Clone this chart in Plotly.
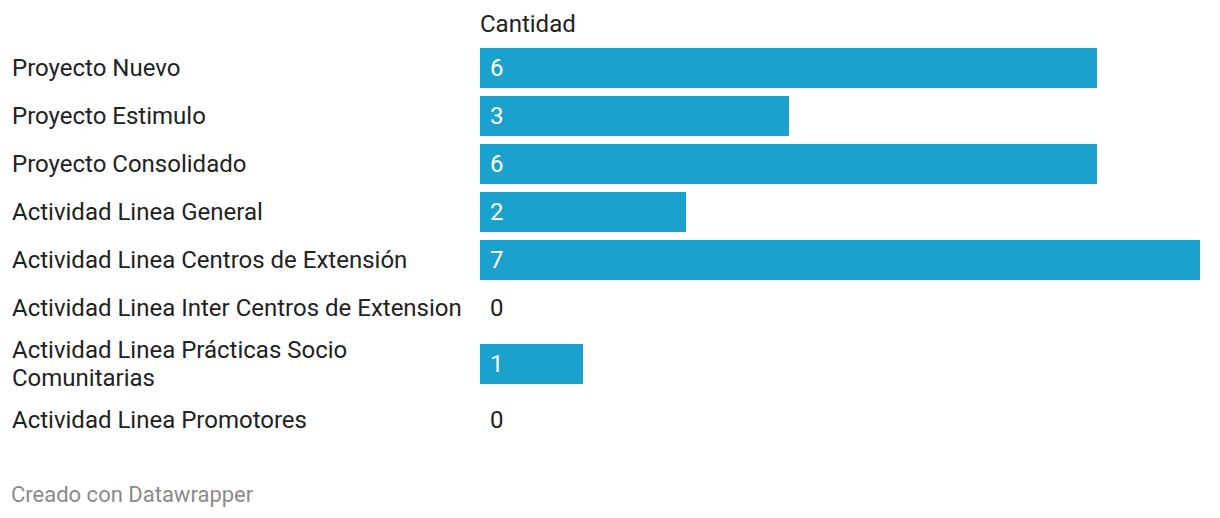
import plotly.graph_objects as go

categories = [
    "Proyecto Nuevo",
    "Proyecto Estimulo",
    "Proyecto Consolidado",
    "Actividad Linea General",
    "Actividad Linea Centros de Extensión",
    "Actividad Linea Inter Centros de Extension",
    "Actividad Linea Prácticas Socio<br>Comunitarias",
    "Actividad Linea Promotores",
]
cantidad = [6, 3, 6, 2, 7, 0, 1, 0]
column_title = "Cantidad"
footer = "Creado con Datawrapper"

OFF = 8  # page body margin
W, H = 1220 - OFF, 518 - OFF
BAR_COLOR = "#1aa1cd"
TEXT_COLOR = "#222222"
FONT = "Roboto, Arial, sans-serif"
FS = 24
LINE_H = 28

# row centers in page pixel units
centers = []
y = 44
for c in categories:
    lines = c.count("<br>") + 1
    h = 48 if lines == 1 else 64
    centers.append(y + h / 2)
    y += h
centers_fig = [c - OFF for c in centers]

x0_px, x1_px = 480 - OFF, 1200 - OFF
xmax = max(cantidad)

fig = go.Figure(
    go.Bar(
        x=cantidad,
        y=centers_fig,
        orientation="h",
        width=40,
        marker=dict(color=BAR_COLOR, line=dict(width=0)),
        hoverinfo="skip",
    )
)

annotations = []
for cat, v, cy in zip(categories, cantidad, centers_fig):
    parts = cat.split("<br>")
    n = len(parts)
    for i, p in enumerate(parts):
        ly = cy + (i - (n - 1) / 2) * LINE_H
        annotations.append(dict(
            x=(10 - OFF) / W, xref="paper", y=ly, yref="y", text=p, showarrow=False,
            xanchor="left", yanchor="middle", align="left",
            font=dict(family=FONT, size=FS, color=TEXT_COLOR),
        ))
    annotations.append(dict(
        x=0, xref="x", y=cy, yref="y", text=str(v), showarrow=False,
        xanchor="left", yanchor="middle", xshift=8,
        font=dict(family=FONT, size=FS, color="#ffffff" if v > 0 else TEXT_COLOR),
    ))
annotations.append(dict(
    x=0, xref="x", y=24 - OFF, yref="y", text=column_title, showarrow=False,
    xanchor="left", yanchor="middle", xshift=-2,
    font=dict(family=FONT, size=FS, color=TEXT_COLOR),
))
annotations.append(dict(
    x=(9 - OFF) / W, xref="paper", y=494 - OFF, yref="y", text=footer, showarrow=False,
    xanchor="left", yanchor="middle",
    font=dict(family=FONT, size=22, color="#8a8a8a"),
))

fig.update_layout(
    width=W, height=H,
    margin=dict(l=0, r=0, t=0, b=0),
    paper_bgcolor="white", plot_bgcolor="white",
    showlegend=False,
    bargap=0,
    xaxis=dict(domain=[x0_px / W, x1_px / W], range=[0, xmax], visible=False,
               fixedrange=True),
    yaxis=dict(range=[H, 0], visible=False, fixedrange=True),
    annotations=annotations,
)

fig.write_html("out.html")
